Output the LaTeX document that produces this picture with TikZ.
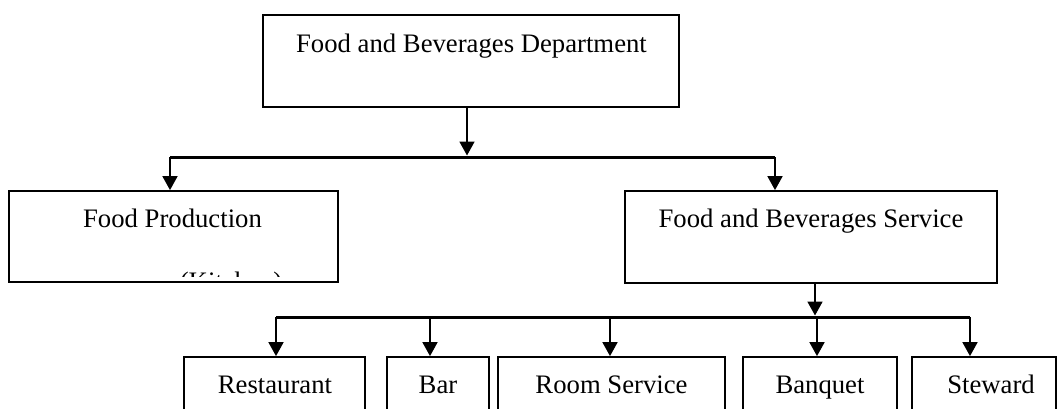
\documentclass[tikz,border=0pt]{standalone}
\usepackage{fontspec}
\setmainfont{Liberation Serif}
\usetikzlibrary{arrows.meta}
\begin{document}
\begin{tikzpicture}[x=1pt,y=-1pt,
  box/.style={draw, line width=1.8pt, inner sep=0pt, fill=none},
  lbl/.style={anchor=base, inner sep=0pt, font=\fontsize{26.7}{32}\selectfont},
  bar/.style={line width=3pt},
  arr/.style={line width=1.8pt, -{Triangle[width=15pt,length=14pt]}}]
\clip (0,0) rectangle (1058,408);
% boxes
\node[box, minimum width=416pt, minimum height=92pt] (top) at (471,61) {};
\node[box, minimum width=329pt, minimum height=91pt] (fp) at (173.5,236.5) {};
\node[box, minimum width=372pt, minimum height=92pt] (fbs) at (811,237) {};
\node[box, minimum width=181pt, minimum height=70pt] (rest) at (274.5,392) {};
\node[box, minimum width=102pt, minimum height=70pt] (bar) at (438,392) {};
\node[box, minimum width=227pt, minimum height=70pt] (room) at (611.5,392) {};
\node[box, minimum width=154pt, minimum height=70pt] (banq) at (820,392) {};
\node[box, minimum width=144pt, minimum height=70pt] (stew) at (984,392) {};
% labels
\node[lbl] (ttop) at (471.5,52) {Food and Beverages Department};
\node[lbl] (tfp) at (172.5,227) {Food Production};
\begin{scope}
\clip (9,191) rectangle (338,276.5);
\node[lbl] (tkit) at (231,290) {(Kitchen)};
\end{scope}
\node[lbl] (tfbs) at (811,227) {Food and Beverages Service};
\node[lbl] (trest) at (275,393) {Restaurant};
\node[lbl] (tbar) at (438,393) {Bar};
\node[lbl] (troom) at (611.5,393) {Room Service};
\node[lbl] (tbanq) at (820,393) {Banquet};
\node[lbl] (tstew) at (991,393) {Steward};
% upper bar
\coordinate (b1L) at (170,157);
\coordinate (b1R) at (775,157);
\coordinate (b1M) at (467,155.5);
\draw[bar] (b1L) -- (b1R);
\draw[arr] (top.south -| b1M) -- (b1M);
\draw[arr] (b1L) -- (fp.north -| b1L);
\draw[arr] (b1R) -- (fbs.north -| b1R);
% lower bar
\coordinate (b2L) at (276,317);
\coordinate (b2R) at (970,317);
\coordinate (b2M) at (815,315.5);
\coordinate (d2) at (430,317);
\coordinate (d3) at (610,317);
\coordinate (d4) at (817,317);
\draw[bar] (b2L) -- (b2R);
\draw[arr] (fbs.south -| b2M) -- (b2M);
\draw[arr] (b2L) -- (rest.north -| b2L);
\draw[arr] (d2) -- (bar.north -| d2);
\draw[arr] (d3) -- (room.north -| d3);
\draw[arr] (d4) -- (banq.north -| d4);
\draw[arr] (b2R) -- (stew.north -| b2R);
\end{tikzpicture}
\end{document}
